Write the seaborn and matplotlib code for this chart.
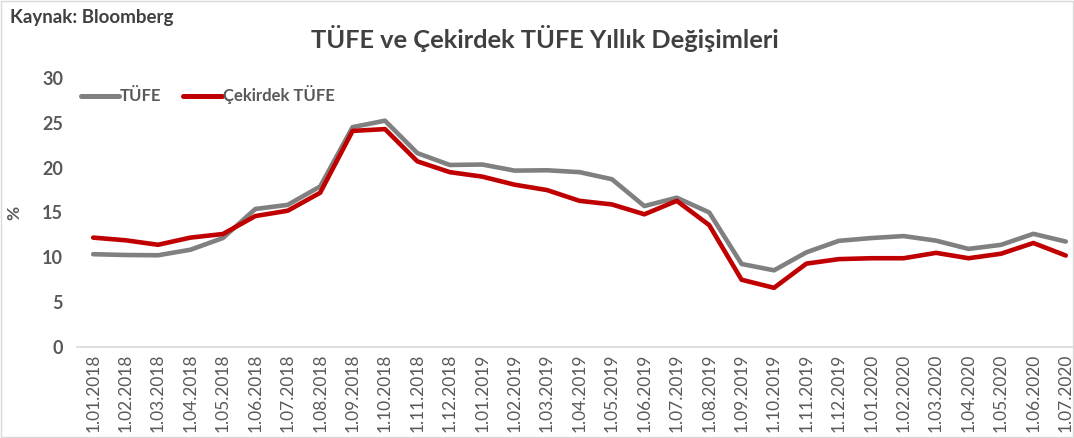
import matplotlib
matplotlib.use("Agg")
import matplotlib.pyplot as plt
import seaborn as sns
import pandas as pd
from matplotlib.patches import Rectangle

dates = ["1.01.2018", "1.02.2018", "1.03.2018", "1.04.2018", "1.05.2018", "1.06.2018",
         "1.07.2018", "1.08.2018", "1.09.2018", "1.10.2018", "1.11.2018", "1.12.2018",
         "1.01.2019", "1.02.2019", "1.03.2019", "1.04.2019", "1.05.2019", "1.06.2019",
         "1.07.2019", "1.08.2019", "1.09.2019", "1.10.2019", "1.11.2019", "1.12.2019",
         "1.01.2020", "1.02.2020", "1.03.2020", "1.04.2020", "1.05.2020", "1.06.2020",
         "1.07.2020"]
tufe = [10.35, 10.26, 10.23, 10.85, 12.15, 15.39, 15.85, 17.90, 24.52, 25.24, 21.62, 20.30,
        20.35, 19.67, 19.71, 19.50, 18.71, 15.72, 16.65, 15.01, 9.26, 8.55, 10.56, 11.84,
        12.15, 12.37, 11.86, 10.94, 11.39, 12.62, 11.76]
cekirdek = [12.2, 11.9, 11.4, 12.2, 12.6, 14.6, 15.2, 17.2, 24.1, 24.3, 20.7, 19.5,
            19.0, 18.1, 17.5, 16.3, 15.9, 14.8, 16.3, 13.6, 7.5, 6.6, 9.3, 9.8,
            9.9, 9.9, 10.5, 9.9, 10.4, 11.6, 10.2]
series_names = ["TÜFE", "Çekirdek TÜFE"]
yticks = [0, 5, 10, 15, 20, 25, 30]

df = pd.DataFrame({
    "idx": list(range(len(dates))) * 2,
    "value": tufe + cekirdek,
    "series": [series_names[0]] * len(dates) + [series_names[1]] * len(dates),
})

sns.set_theme(style="white")
plt.rcParams["font.family"] = ["Lato", "DejaVu Sans"]

fig = plt.figure(figsize=(10.74, 4.38), dpi=100)
W, H = 1074, 438
ax = fig.add_axes([77 / W, (H - 347) / H, (1082 - 77) / W, (347 - 78) / H])

sns.lineplot(data=df, x="idx", y="value", hue="series", hue_order=series_names,
             palette=["#808080", "#C00000"], linewidth=3.3, ax=ax, legend=True)

ax.set_xlim(-0.5, len(dates) - 0.5)
ax.set_ylim(0, 30)
ax.set_yticks(yticks)
ax.set_yticklabels([str(v) for v in yticks], fontsize=13, fontweight="bold", color="#595959")
ax.set_xticks(range(len(dates)))
ax.set_xticklabels(dates, rotation=90, fontsize=12.5, color="#595959")
ax.set_xticks([i - 0.5 for i in range(len(dates) + 1)], minor=True)
ax.tick_params(axis="x", which="major", length=0, pad=5)
ax.tick_params(axis="x", which="minor", length=5, color="#D9D9D9", width=1, direction="out")
ax.tick_params(axis="y", length=0, pad=10)
ax.set_xlabel("")
ax.set_ylabel("%", fontsize=12.5, fontweight="bold", color="#595959", labelpad=10)
ax.yaxis.set_label_coords(-(77 - 22) / (1082 - 77), 0.5)
for s in ["top", "right", "left"]:
    ax.spines[s].set_visible(False)
ax.spines["bottom"].set_color("#D9D9D9")
ax.spines["bottom"].set_linewidth(1.2)
ax.grid(False)

leg = ax.legend(loc="center left", bbox_to_anchor=(0.004, 0.937), ncol=2, frameon=False,
                fontsize=12, handlelength=2.3, handletextpad=0.05, columnspacing=1.3,
                borderaxespad=0, borderpad=0)
for t in leg.get_texts():
    t.set_fontweight("bold")
    t.set_color("#595959")
for l in leg.get_lines():
    l.set_linewidth(3.6)

fig.text(545 / W, 1 - 38 / H, "TÜFE ve Çekirdek TÜFE Yıllık Değişimleri", ha="center", va="center",
         fontsize=18.3, fontweight="bold", color="#404040")
fig.text(10 / W, 1 - 18 / H, "Kaynak: Bloomberg", ha="left", va="center",
         fontsize=13.5, fontweight="bold", color="#404040")

fig.patches.append(Rectangle((1 / W, 1 / H), 1 - 2 / W, 1 - 2 / H, transform=fig.transFigure,
                             fill=False, edgecolor="#D9D9D9", linewidth=1))

fig.savefig("out.png", dpi=100)
